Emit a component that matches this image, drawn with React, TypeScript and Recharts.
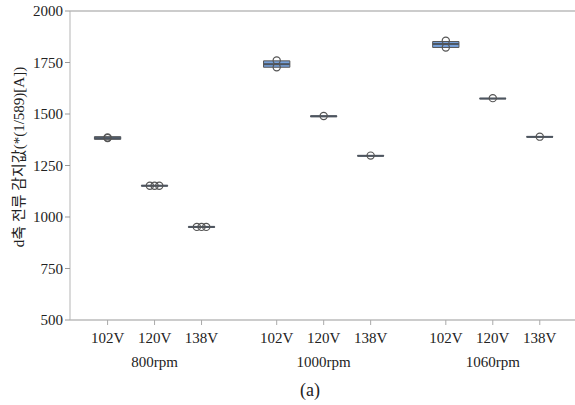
import React from "react";
import {
  ComposedChart,
  Scatter,
  XAxis,
  YAxis,
  ReferenceLine,
  ReferenceArea,
} from "recharts";

// Speed groups and supply voltages
const speeds = ["800rpm", "1000rpm", "1060rpm"];
const voltages = ["102V", "120V", "138V"];
// Axis position of each box (groups are separated by a gap)
const positions = [0, 1, 2, 3.6, 4.6, 5.6, 7.2, 8.2, 9.2];

// Box statistics per speed/voltage combination
const q1 = [1377, 1150, 950, 1727, 1487, 1296, 1823, 1574, 1388];
const q3 = [1390, 1153, 953, 1758, 1491, 1298, 1852, 1576, 1390];
const medians = [1383, 1152, 952, 1742, 1489, 1297, 1840, 1575, 1389];

// Individual measurements for each box
const samples: number[][] = [
  [1383, 1386],
  [1152, 1152, 1152],
  [952, 952, 952],
  [1760, 1727],
  [1490],
  [1298],
  [1856, 1823],
  [1577],
  [1390],
];

const yTicks = [500, 750, 1000, 1250, 1500, 1750, 2000];

const SERIF = "Liberation Serif, serif";
const TITLE_FONT = "Liberation Serif, Noto Sans CJK KR, serif";

// Half of a box's width, in axis units
const HALF = 0.28;

// Equal readings are spread sideways so each one stays visible
const points = samples.flatMap((vals, i) =>
  vals.map((v, j) => {
    const same = vals.filter((w) => w === v).length;
    const k = vals.slice(0, j).filter((w) => w === v).length;
    const off = same > 1 ? (k - (same - 1) / 2) * 0.1 : 0;
    return { x: positions[i] + off, y: v };
  })
);

const PointShape = (props: any) => {
  const { cx, cy } = props;
  if (cx == null || cy == null) return null;
  return <circle cx={cx} cy={cy} r={3.6} fill="none" stroke="#555" strokeWidth={1.2} />;
};

const XTick = (props: any) => {
  const { x, y, payload } = props;
  const idx = positions.indexOf(payload.value);
  if (idx < 0) return null;
  const v = voltages[idx % 3];
  const showGroup = idx % 3 === 1;
  return (
    <g>
      <text x={x} y={y + 16} textAnchor="middle" fontSize={15} fill="#222" style={{ fontFamily: SERIF }}>
        {v}
      </text>
      {showGroup && (
        <text x={x} y={y + 40} textAnchor="middle" fontSize={15} fill="#222" style={{ fontFamily: SERIF }}>
          {speeds[Math.floor(idx / 3)]}
        </text>
      )}
    </g>
  );
};

export default function App() {
  return (
    <div style={{ position: "relative", width: 575, height: 405, background: "#fff" }}>
      <style>{`body{margin:0;background:#fff}`}</style>
      <ComposedChart
        width={575}
        height={405}
        margin={{ top: 11, right: 0, bottom: 35, left: 0 }}
      >
        <XAxis
          dataKey="x"
          type="number"
          domain={[-0.8, 9.95]}
          ticks={positions}
          interval={0}
          tick={<XTick />}
          tickSize={5}
          stroke="#999"
          tickLine={{ stroke: "#aaa" }}
          height={50}
          allowDataOverflow
        />
        <YAxis
          type="number"
          domain={[500, 2000]}
          ticks={yTicks}
          width={70}
          tickSize={5}
          stroke="#b5b5b5"
          tickLine={{ stroke: "#999" }}
          tick={{ fontSize: 15, fill: "#222", style: { fontFamily: SERIF } }}
          allowDataOverflow
        />
        <ReferenceLine y={2000} stroke="#999" strokeWidth={1} />
        {positions.map((p, i) => (
          <ReferenceArea
            key={`box-${i}`}
            x1={p - HALF}
            x2={p + HALF}
            y1={q1[i]}
            y2={q3[i]}
            fill="#76a0da"
            fillOpacity={1}
            stroke="#555"
            strokeWidth={1}
            strokeOpacity={1}
          />
        ))}
        {positions.map((p, i) => (
          <ReferenceLine
            key={`med-${i}`}
            segment={[
              { x: p - HALF, y: medians[i] },
              { x: p + HALF, y: medians[i] },
            ]}
            stroke="#4d5560"
            strokeWidth={2}
          />
        ))}
        <Scatter
          data={points}
          dataKey="y"
          shape={<PointShape />}
          isAnimationActive={false}
        />
      </ComposedChart>
      <div
        style={{
          position: "absolute",
          left: 17,
          top: 157,
          transform: "translate(-50%, -50%) rotate(-90deg)",
          whiteSpace: "nowrap",
          fontFamily: TITLE_FONT,
          fontSize: 15,
          color: "#222",
        }}
      >
        d축 전류 감지값(*(1/589)[A])
      </div>
      <div
        style={{
          position: "absolute",
          left: 310,
          top: 390,
          transform: "translate(-50%, -50%)",
          fontFamily: SERIF,
          fontSize: 18,
          color: "#222",
        }}
      >
        (a)
      </div>
    </div>
  );
}
